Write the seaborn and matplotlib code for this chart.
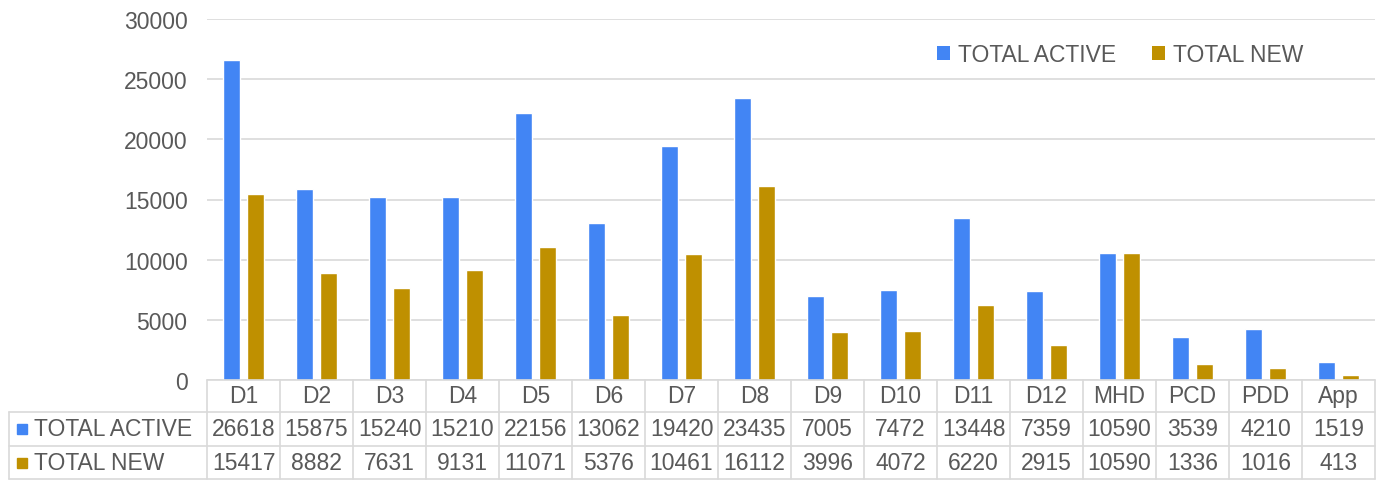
import matplotlib
matplotlib.use("Agg")
import matplotlib.pyplot as plt
import seaborn as sns
import pandas as pd
from matplotlib.patches import Patch
from matplotlib.lines import Line2D
from matplotlib.transforms import blended_transform_factory

categories = ["D1", "D2", "D3", "D4", "D5", "D6", "D7", "D8", "D9", "D10",
              "D11", "D12", "MHD", "PCD", "PDD", "App"]
total_active = [26618, 15875, 15240, 15210, 22156, 13062, 19420, 23435, 7005,
                7472, 13448, 7359, 10590, 3539, 4210, 1519]
total_new = [15417, 8882, 7631, 9131, 11071, 5376, 10461, 16112, 3996, 4072,
             6220, 2915, 10590, 1336, 1016, 413]
series_names = ["TOTAL ACTIVE", "TOTAL NEW"]
colors = ["#4285F4", "#BF9000"]
yticks = [0, 5000, 10000, 15000, 20000, 25000, 30000]

sns.set_theme(style="white")
plt.rcParams["font.family"] = ["Liberation Sans", "DejaVu Sans"]
TXT = "#595959"
GRID = "#D9D9D9"
FS = 16.5

df = pd.DataFrame({
    "cat": categories * 2,
    "series": [series_names[0]] * len(categories) + [series_names[1]] * len(categories),
    "value": total_active + total_new,
})

W, H = 1376, 481
fig = plt.figure(figsize=(W / 100, H / 100), dpi=100)
left, right, top, bottom = 207, 1375, 20, 381
ax = fig.add_axes([left / W, 1 - bottom / H, (right - left) / W, (bottom - top) / H])

sns.barplot(data=df, x="cat", y="value", hue="series", order=categories,
            hue_order=series_names, palette=colors, width=0.64, gap=0.28,
            saturation=1, ax=ax, legend=False)

ax.set_ylim(0, 30000)
ax.set_xlim(-0.5, len(categories) - 0.5)
ax.set_yticks(yticks)
ax.set_yticklabels([str(v) for v in yticks], fontsize=FS, color=TXT)
ax.tick_params(axis="y", length=0, pad=14)
ax.set_xticks([])
ax.set_xlabel("")
ax.set_ylabel("")
for s in ax.spines.values():
    s.set_visible(False)
ax.yaxis.grid(True, color=GRID, linewidth=1.2)
ax.set_axisbelow(True)

# data table under the plot
ax_h = bottom - top
ax_w = right - left
def ay(py):
    return (bottom - py) / ax_h
def ax_x(px):
    return (px - left) / ax_w

trans = blended_transform_factory(ax.transData, ax.transAxes)
y_hdr_bot = ay(413)
y_r1_bot = ay(447)
y_end = ay(480)
x_lab_left = ax_x(9)

lk = dict(color=GRID, linewidth=1.2, clip_on=False)
ax.add_line(Line2D([0, 1], [0, 0], transform=ax.transAxes, **lk))
for yy in (y_hdr_bot, y_r1_bot, y_end):
    ax.add_line(Line2D([x_lab_left, 1], [yy, yy], transform=ax.transAxes, **lk))
ax.add_line(Line2D([x_lab_left, x_lab_left], [y_hdr_bot, y_end], transform=ax.transAxes, **lk))
for i in range(len(categories) + 1):
    ax.add_line(Line2D([i - 0.5, i - 0.5], [0, y_end], transform=trans, **lk))

for i, c in enumerate(categories):
    ax.text(i, (0 + y_hdr_bot) / 2, c, transform=trans, ha="center", va="center",
            fontsize=FS, color=TXT)
    ax.text(i, (y_hdr_bot + y_r1_bot) / 2, str(total_active[i]), transform=trans,
            ha="center", va="center", fontsize=FS, color=TXT)
    ax.text(i, (y_r1_bot + y_end) / 2, str(total_new[i]), transform=trans,
            ha="center", va="center", fontsize=FS, color=TXT)

for k, (name, col) in enumerate(zip(series_names, colors)):
    yc = (y_hdr_bot + y_r1_bot) / 2 if k == 0 else (y_r1_bot + y_end) / 2
    ax.plot([ax_x(22)], [yc], marker="s", markersize=7.5, color=col,
            transform=ax.transAxes, clip_on=False, linestyle="none")
    ax.text(ax_x(34), yc, name, transform=ax.transAxes, ha="left", va="center",
            fontsize=FS, color=TXT)

handles = [Patch(facecolor=c, edgecolor="none", label=n) for n, c in zip(series_names, colors)]
fig.legend(handles=handles, loc="center left", bbox_to_anchor=(937 / W, 1 - 56 / H),
           ncol=2, frameon=False, fontsize=FS, labelcolor=TXT, handlelength=0.55,
           handleheight=0.55, handletextpad=0.35, columnspacing=1.6, borderpad=0,
           borderaxespad=0)

fig.savefig("out.png", dpi=100)
